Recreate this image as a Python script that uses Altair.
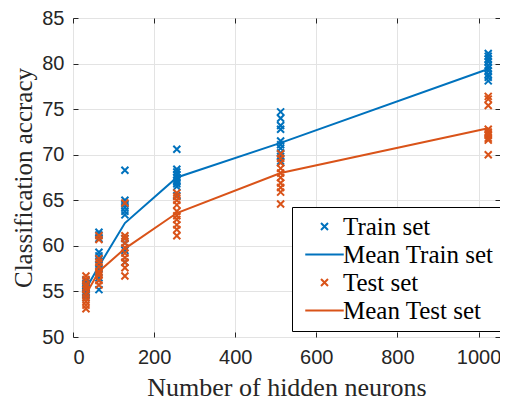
import altair as alt
import pandas as pd

neurons = [32, 64, 128, 256, 512, 1024]

train_points = [
    [56.2, 55.9, 55.6, 55.4, 55.2, 55.0, 54.8, 54.6, 54.3, 55.8],
    [61.5, 61.2, 60.8, 59.3, 58.9, 58.5, 58.0, 57.5, 56.5, 55.2],
    [68.3, 65.0, 64.6, 64.2, 63.8, 63.4, 60.8, 60.3, 59.5, 58.2],
    [70.6, 68.4, 68.1, 67.8, 67.5, 67.2, 67.0, 66.8, 66.5, 65.5],
    [74.7, 74.0, 73.2, 72.8, 71.5, 71.1, 70.7, 70.2, 69.8, 69.3],
    [81.1, 80.8, 80.5, 80.2, 79.8, 79.5, 79.2, 78.8, 78.5, 78.1],
]
test_points = [
    [56.7, 56.3, 55.8, 55.2, 54.7, 54.3, 53.9, 53.5, 53.1, 55.5],
    [61.1, 60.7, 58.6, 58.2, 57.7, 57.2, 56.8, 56.2, 55.7, 57.0],
    [64.7, 61.1, 60.8, 60.3, 59.8, 59.2, 58.7, 58.2, 57.6, 56.7],
    [65.8, 65.4, 65.0, 64.5, 63.8, 63.3, 62.9, 62.3, 61.8, 61.1],
    [70.1, 69.6, 69.1, 68.5, 68.0, 67.5, 66.9, 66.4, 65.9, 64.6],
    [76.4, 76.1, 75.4, 72.8, 72.5, 72.1, 71.8, 71.6, 70.0, 72.3],
]
train_mean = [55.3, 57.8, 62.5, 67.5, 71.3, 79.4]
test_mean = [54.7, 57.2, 59.7, 63.6, 68.0, 72.9]

series_names = ["Train set", "Mean Train set", "Test set", "Mean Test set"]
series_colors = ["#0072BD", "#0072BD", "#D95319", "#D95319"]
x_ticks = [0, 200, 400, 600, 800, 1000]
y_ticks = [50, 55, 60, 65, 70, 75, 80, 85]

rows = []
for xv, vals in zip(neurons, train_points):
    for v in vals:
        rows.append({"x": xv, "y": v, "series": "Train set"})
for xv, vals in zip(neurons, test_points):
    for v in vals:
        rows.append({"x": xv, "y": v, "series": "Test set"})
for xv, v in zip(neurons, train_mean):
    rows.append({"x": xv, "y": v, "series": "Mean Train set"})
for xv, v in zip(neurons, test_mean):
    rows.append({"x": xv, "y": v, "series": "Mean Test set"})
df = pd.DataFrame(rows)

W, H = 427, 319
XPATH = "M-1,-1L1,1M-1,1L1,-1"
LPATH = "M-5.5,0L5.5,0"

xscale = alt.Scale(domain=[0, 1053], nice=False, zero=False)
yscale = alt.Scale(domain=[50, 85], nice=False, zero=False)
cscale = alt.Scale(domain=series_names, range=series_colors)
sscale = alt.Scale(domain=series_names, range=[XPATH, LPATH, XPATH, LPATH])

legend = alt.Legend(
    title=None, orient="none", legendX=219, legendY=189,
    labelFont="Liberation Serif", labelFontSize=25, labelColor="black",
    symbolStrokeWidth=2, symbolSize=49, symbolOffset=13, labelOffset=6,
    strokeColor="black", fillColor="white", padding=7, rowPadding=2,
    cornerRadius=0, labelLimit=400,
)

tick_common = dict(labels=False, domain=False, grid=False, title=None,
                   tickSize=5, tickColor="#262626", tickWidth=1)

main_x = alt.Axis(values=x_ticks, orient="bottom", title="Number of hidden neurons",
                  format="d",
                  grid=True, gridColor="#E3E3E3", domain=False, tickSize=0,
                  labelFont="Liberation Sans", labelFontSize=20, labelColor="#262626",
                  labelPadding=10, titleFont="Liberation Serif", titleFontSize=26,
                  titleFontWeight="normal", titleColor="#262626", titlePadding=7)
main_y = alt.Axis(values=y_ticks, orient="left", title="Classification accracy",
                  grid=True, gridColor="#E3E3E3", domain=False, tickSize=0,
                  labelFont="Liberation Sans", labelFontSize=20, labelColor="#262626",
                  labelPadding=9, titleFont="Liberation Serif", titleFontSize=25,
                  titleFontWeight="normal", titleColor="#262626", titlePadding=5)

base = alt.Chart(df)

train_pts = base.transform_filter(alt.datum.series == "Train set").mark_point(
    filled=False, strokeWidth=2, size=49, opacity=1
).encode(
    x=alt.X("x:Q", scale=xscale, axis=main_x),
    y=alt.Y("y:Q", scale=yscale, axis=main_y),
    color=alt.Color("series:N", scale=cscale, legend=legend),
    shape=alt.Shape("series:N", scale=sscale, legend=legend),
)

train_line = base.transform_filter(alt.datum.series == "Mean Train set").mark_line(
    strokeWidth=2
).encode(
    x=alt.X("x:Q", scale=xscale, axis=alt.Axis(values=x_ticks, orient="top", offset=-H, **tick_common)),
    y=alt.Y("y:Q", scale=yscale, axis=alt.Axis(values=y_ticks, orient="right", offset=-W, **tick_common)),
    color=alt.Color("series:N", scale=cscale, legend=legend),
)

test_pts = base.transform_filter(alt.datum.series == "Test set").mark_point(
    filled=False, strokeWidth=2, size=49, opacity=1
).encode(
    x=alt.X("x:Q", scale=xscale, axis=alt.Axis(values=x_ticks, orient="bottom", offset=-H, **tick_common)),
    y=alt.Y("y:Q", scale=yscale, axis=alt.Axis(values=y_ticks, orient="left", offset=-W, **tick_common)),
    color=alt.Color("series:N", scale=cscale, legend=legend),
    shape=alt.Shape("series:N", scale=sscale, legend=legend),
)

test_line = base.transform_filter(alt.datum.series == "Mean Test set").mark_line(
    strokeWidth=2
).encode(
    x=alt.X("x:Q", scale=xscale, axis=None),
    y=alt.Y("y:Q", scale=yscale, axis=None),
    color=alt.Color("series:N", scale=cscale, legend=legend),
)

chart = alt.layer(train_pts, train_line, test_pts, test_line).resolve_axis(
    x="independent", y="independent"
).properties(
    width=W, height=H,
    autosize=alt.AutoSizeParams(type="none"),
    padding={"left": 65, "top": 10, "right": 0, "bottom": 64},
).configure_view(
    stroke="#262626", strokeWidth=1
).configure(background="white")

chart.save("out.html", embed_options={"renderer": "svg", "actions": False})
